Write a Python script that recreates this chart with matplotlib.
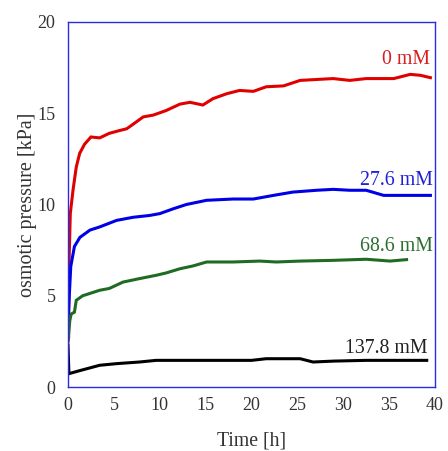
import matplotlib
matplotlib.use("Agg")
import matplotlib.pyplot as plt

plt.rcParams['font.family'] = ['Liberation Serif', 'DejaVu Serif']

# osmotic pressure over time for each NaCl concentration
t_0mM = [0.0, 0.07, 0.1, 0.25, 0.55, 0.9, 1.27, 1.8, 2.5, 3.45, 4.5, 5.6, 6.4, 7.1, 8.2, 9.3,
         10.7, 12.2, 13.3, 14.7, 15.8, 17.3, 18.7, 20.2, 21.6, 23.5, 25.3, 27.1, 28.9, 30.7,
         32.5, 35.5, 37.3, 38.4, 39.5]
p_0mM = [2.5, 2.7, 6.6, 9.5, 10.8, 12.05, 12.8, 13.3, 13.7, 13.65, 13.9, 14.05, 14.15, 14.4,
         14.8, 14.9, 15.15, 15.5, 15.6, 15.45, 15.8, 16.07, 16.25, 16.2, 16.45, 16.5, 16.8,
         16.85, 16.9, 16.8, 16.9, 16.9, 17.13, 17.08, 16.95]

t_27mM = [0.05, 0.15, 0.3, 0.7, 1.3, 2.4, 3.45, 5.3, 7.1, 8.9, 10.0, 11.5, 12.9, 15.1, 18.0,
          20.2, 22.4, 24.5, 27.1, 28.9, 30.7, 32.5, 34.4, 36.2, 39.5]
p_27mM = [4.0, 5.1, 6.6, 7.7, 8.2, 8.6, 8.77, 9.13, 9.3, 9.4, 9.5, 9.77, 10.0, 10.23, 10.3,
          10.3, 10.5, 10.68, 10.78, 10.83, 10.78, 10.78, 10.5, 10.5, 10.5]

t_68mM = [0.0, 0.2, 0.35, 0.7, 0.9, 1.6, 3.45, 4.5, 6.0, 7.8, 9.6, 10.7, 12.2, 13.6, 15.1,
          18.0, 20.9, 22.7, 25.3, 28.9, 32.5, 35.1, 36.9]
p_68mM = [2.56, 3.65, 4.0, 4.1, 4.75, 5.0, 5.3, 5.4, 5.75, 5.94, 6.12, 6.25, 6.48, 6.63, 6.85,
          6.85, 6.9, 6.85, 6.9, 6.94, 7.0, 6.9, 6.98]

t_137mM = [0.0, 0.1, 1.3, 3.45, 5.3, 7.8, 9.6, 14.0, 20.0, 21.6, 25.3, 26.7, 29.0, 32.5, 39.1]
p_137mM = [2.3, 0.73, 0.9, 1.19, 1.28, 1.37, 1.46, 1.46, 1.46, 1.55, 1.55, 1.37, 1.42, 1.46, 1.46]

labels = ['0 mM', '27.6 mM', '68.6 mM', '137.8 mM']
colors = ['#e00000', '#0000e6', '#1f6b24', '#000000']
text_colors = ['#d42020', '#2020d8', '#2a6e30', '#222222']
# where each concentration label sits (time, pressure)
label_x = [39.45, 39.8, 39.8, 39.2]
label_y = [17.7, 11.07, 7.47, 1.88]

series = [(t_0mM, p_0mM), (t_27mM, p_27mM), (t_68mM, p_68mM), (t_137mM, p_137mM)]

fig = plt.figure(figsize=(4.48, 4.51), dpi=100)
ax = fig.add_axes([68 / 448, 1 - 387 / 451, (435 - 68) / 448, (387 - 22) / 451])

for (t, p), c in zip(series, colors):
    ax.plot(t, p, color=c, linewidth=2.2, solid_joinstyle='miter')

for lab, c, lx, ly in zip(labels, text_colors, label_x, label_y):
    ax.text(lx, ly, lab, color=c, fontsize=14.3, ha='right', va='baseline')

ax.set_xlim(0, 40)
ax.set_ylim(0, 20)
ax.set_xticks(range(0, 41, 5))
ax.set_yticks(range(0, 21, 5))
ax.tick_params(length=0, labelsize=13, labelcolor='#333333')
ax.tick_params(axis='x', pad=7)
ax.tick_params(axis='y', pad=9)
for s in ax.spines.values():
    s.set_color('#2a2ae0')
    s.set_linewidth(1.0)

ax.set_xlabel('Time [h]', fontsize=14.2, color='#333333', labelpad=13)
ax.set_ylabel('osmotic pressure [kPa]', fontsize=14.5, color='#333333', labelpad=0)

fig.savefig('out.png', dpi=100)
